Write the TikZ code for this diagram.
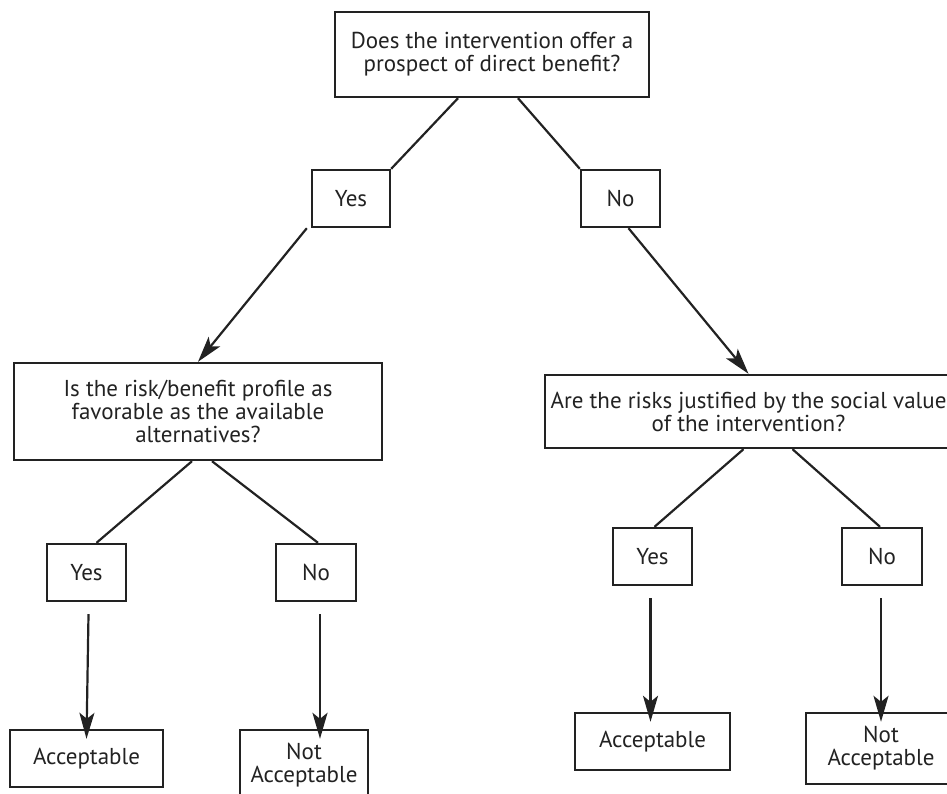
\documentclass[tikz,border=0pt]{standalone}
\usepackage{fontspec}
\setmainfont{PT Sans}
\usetikzlibrary{arrows.meta,calc}
\definecolor{ink}{HTML}{222222}
\tikzset{
  box/.style={draw=ink, line width=2.4pt, rectangle, inner sep=0pt, align=center,
    text=ink, font=\fontsize{23}{23}\selectfont},
  conn/.style={draw=ink, line width=2.2pt},
  arr/.style={draw=ink, line width=2.2pt, -{Stealth[length=26pt,width=15pt,inset=6pt]}},
}
\begin{document}
\begin{tikzpicture}[x=1pt,y=-1pt]
\clip (0,0) rectangle (947,794);
\useasboundingbox (0,0) rectangle (947,794);
% top level
\node[box, minimum width=314pt, minimum height=85pt] (top) at (492,54.5)
  {Does the intervention offer a\\prospect of direct benefit?};
\node[box, minimum width=78pt, minimum height=57pt] (yes1) at (351,198.5) {Yes};
\node[box, minimum width=79pt, minimum height=57pt] (no1) at (620.5,198.5) {No};
% second level
\node[box, minimum width=368pt, minimum height=97pt] (lq) at (198,411.5)
  {Is the risk/benefit profile as\\favorable as the available\\alternatives?};
\node[box, minimum width=407pt, minimum height=73pt] (rq) at (748.5,411.5)
  {Are the risks justified by the social value\\of the intervention?};
% third level
\node[box, minimum width=79pt, minimum height=57pt] (lyes) at (86.5,572.5) {Yes};
\node[box, minimum width=80pt, minimum height=57pt] (lno) at (316,572.5) {No};
\node[box, minimum width=79pt, minimum height=57pt] (ryes) at (652.5,556.5) {Yes};
\node[box, minimum width=80pt, minimum height=57pt] (rno) at (882,556.5) {No};
% outcomes
\node[box, minimum width=153pt, minimum height=57pt] (lacc) at (86.5,758.5) {Acceptable};
\node[box, minimum width=128pt, minimum height=71pt] (lnot) at (304,765.5) {Not\\Acceptable};
\node[box, minimum width=155pt, minimum height=57pt] (racc) at (652.5,741.5) {Acceptable};
\node[box, minimum width=150pt, minimum height=71pt] (rnot) at (881,748.5) {Not\\Acceptable};
% connectors
\draw[conn] ([xshift=-34pt]top.south) -- (yes1.north east);
\draw[conn] ([xshift=26pt]top.south) -- (no1.north west);
\draw[arr] ([xshift=-4pt]yes1.south west) -- (lq.north);
\draw[arr] ([xshift=8pt]no1.south) -- (rq.north);
\draw[conn] ([xshift=-6pt]lq.south) -- ([xshift=10pt]lyes.north);
\draw[conn] ([xshift=14pt]lq.south) -- ([xshift=2pt]lno.north);
\draw[conn] ([xshift=-5pt]rq.south) -- ([xshift=2pt]ryes.north);
\draw[conn] ([xshift=44pt]rq.south) -- ([xshift=-2pt]rno.north);
\draw[arr] ([xshift=2pt,yshift=-12pt]lyes.south) -- ([yshift=-10pt]lyes.south |- lacc.north);
\draw[arr] ([xshift=4pt,yshift=-12pt]lno.south) -- ([xshift=4pt,yshift=-10pt]lno.south |- lnot.north);
\draw[arr] ([xshift=-2pt,yshift=-12pt]ryes.south) -- ([xshift=-2pt,yshift=-10pt]ryes.south |- racc.north);
\draw[arr] ([xshift=-1pt,yshift=-12pt]rno.south) -- ([xshift=-1pt,yshift=-10pt]rno.south |- rnot.north);
\end{tikzpicture}
\end{document}
